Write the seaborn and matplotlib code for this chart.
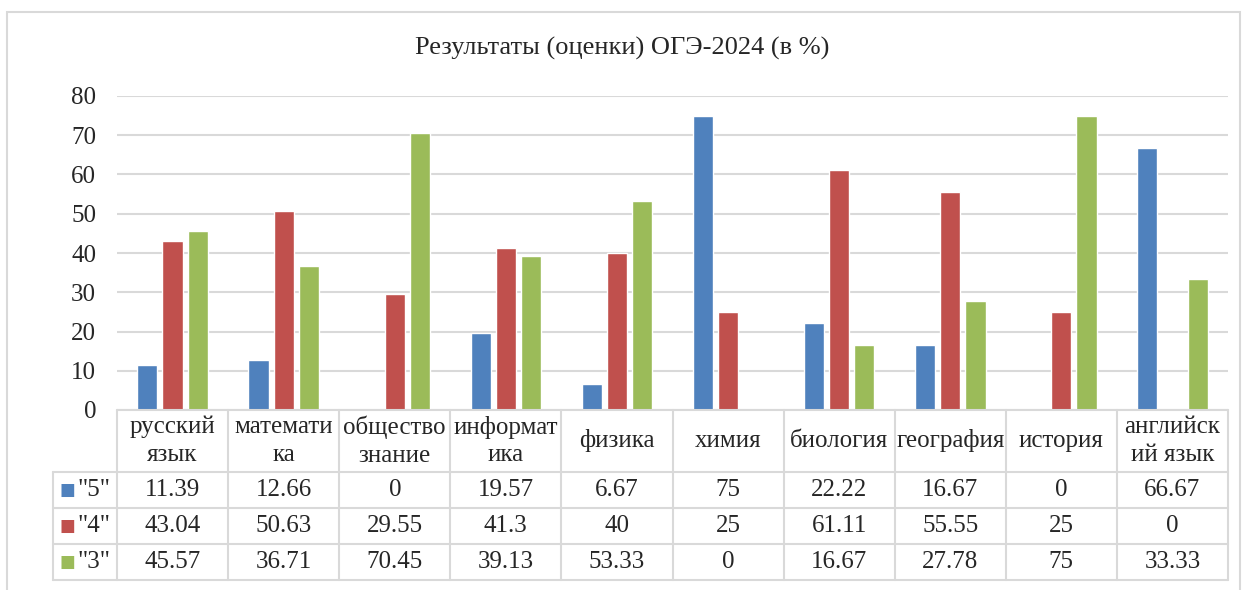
import pandas as pd
import matplotlib.pyplot as plt
import matplotlib.patches as mpatches
import matplotlib.transforms as mtransforms
import seaborn as sns

subjects = ["русский\nязык", "математи\nка", "общество\nзнание", "информат\nика", "физика",
            "химия", "биология", "география", "история", "английск\nий язык"]
grades = ['"5"', '"4"', '"3"']
grade5 = [11.39, 12.66, 0, 19.57, 6.67, 75, 22.22, 16.67, 0, 66.67]
grade4 = [43.04, 50.63, 29.55, 41.3, 40, 25, 61.11, 55.55, 25, 0]
grade3 = [45.57, 36.71, 70.45, 39.13, 53.33, 0, 16.67, 27.78, 75, 33.33]
colors = ["#4F81BD", "#C0504D", "#9BBB59"]

series = [grade5, grade4, grade3]
df = pd.DataFrame({
    "subject": subjects * 3,
    "grade": [g for g in grades for _ in subjects],
    "value": grade5 + grade4 + grade3,
})

sns.set_style("white")
plt.rcParams["font.family"] = ["Liberation Serif", "DejaVu Serif"]
grid_c = "#D9D9D9"
fs = 18

fig = plt.figure(figsize=(12.45, 5.9), dpi=100)
ax_h = 314
ax = fig.add_axes([117 / 1245, 1 - 410 / 590, 1111 / 1245, ax_h / 590])

# outer chart frame
fig.patches.append(mpatches.Rectangle((7 / 1245, -0.05), 1233 / 1245, 1 - 12 / 590 + 0.05,
                                      transform=fig.transFigure, fill=False,
                                      edgecolor=grid_c, linewidth=1.5))

sns.barplot(data=df, x="subject", y="value", hue="grade", palette=colors,
            width=0.68, gap=0.2, ax=ax, legend=False, saturation=1)

n = len(subjects)
ax.set_ylim(0, 80)
ax.set_xlim(-0.5, n - 0.5)
ax.set_yticks(range(0, 81, 10))
ax.yaxis.grid(True, color=grid_c, linewidth=1.5)
ax.set_axisbelow(True)
for s in ax.spines.values():
    s.set_visible(False)
ax.set_xticks([])
ax.set_xlabel("")
ax.set_ylabel("")
ax.tick_params(axis="y", length=0, labelsize=fs, pad=15)

fig.text(0.5, 1 - 48 / 590, "Результаты (оценки) ОГЭ-2024 (в %)", ha="center", va="center",
         fontsize=19)

# data table under the bars (x in category units, y in axes fraction)
tr = mtransforms.blended_transform_factory(ax.transData, ax.transAxes)
head_h, row_h = 62 / ax_h, 36 / ax_h
lab_left = -0.5 - 64 / (1111 / n)
bottom = -(head_h + 3 * row_h)
line_kw = dict(color=grid_c, linewidth=1.5, transform=tr, clip_on=False, zorder=3)

for k in range(n + 1):
    ax.plot([k - 0.5, k - 0.5], [0, bottom], **line_kw)
ax.plot([lab_left, lab_left], [-head_h, bottom], **line_kw)
ax.plot([-0.5, n - 0.5], [0, 0], **line_kw)
for r in range(4):
    y = -head_h - r * row_h
    ax.plot([lab_left, n - 0.5], [y, y], **line_kw)

for i, name in enumerate(subjects):
    ax.text(i, -head_h / 2, name, ha="center", va="center", fontsize=fs,
            linespacing=1.35, transform=tr)

for j, (g, vals, col) in enumerate(zip(grades, series, colors)):
    yc = -head_h - row_h * j - row_h / 2
    ax.text(lab_left + 14 / 111.1, yc, "■", color=col, fontsize=12, ha="center",
            va="center", transform=tr, family="DejaVu Sans")
    ax.text(lab_left + 24 / 111.1, yc, g, ha="left", va="center", fontsize=fs, transform=tr)
    for i, v in enumerate(vals):
        ax.text(i, yc, f"{v:g}", ha="center", va="center", fontsize=fs, transform=tr)

fig.savefig("out.png", dpi=100)
